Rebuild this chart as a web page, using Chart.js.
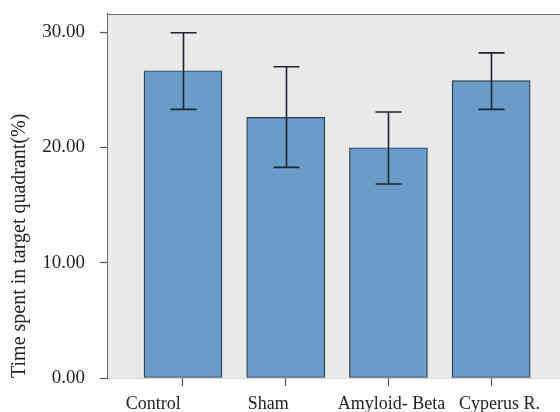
<!DOCTYPE html>
<html>
<head>
<meta charset="utf-8">
<script src="https://cdn.jsdelivr.net/npm/chart.js@4"></script>
<style>
  html, body { margin: 0; padding: 0; background: #fff; }
  #wrap { width: 560px; height: 412px; }
</style>
</head>
<body>
<div id="wrap"><canvas id="grafico"></canvas></div>
<script>
var grupos = ['Control', 'Sham', 'Amyloid- Beta', 'Cyperus R.'];
var medias = [26.65, 22.6, 19.97, 25.8];
var errorAlto = [29.95, 27.0, 23.07, 28.2];
var errorBajo = [23.3, 18.27, 16.83, 23.3];
var ticksY = [0, 10, 20, 30];

// en la figura original las etiquetas no estan centradas bajo cada marca
var desfaseEtiquetas = [-0.29, -0.17, 0.03, 0.08];

var puntos = medias.map(function (v, i) { return { x: i, y: v }; });

// fondo gris del area y linea superior
var fondoPlugin = {
  id: 'fondo',
  beforeDatasetsDraw: function (chart) {
    var a = chart.chartArea, ctx = chart.ctx;
    ctx.save();
    ctx.fillStyle = '#e9e9e9';
    ctx.fillRect(a.left, a.top, a.right - a.left, a.bottom - a.top);
    ctx.strokeStyle = '#6a6a6a';
    ctx.lineWidth = 1.2;
    ctx.beginPath();
    ctx.moveTo(a.left, a.top + 0.5);
    ctx.lineTo(a.right, a.top + 0.5);
    ctx.stroke();
    ctx.restore();
  }
};

// barras de error
var errorPlugin = {
  id: 'errores',
  afterDatasetsDraw: function (chart) {
    var ctx = chart.ctx, sx = chart.scales.x, sy = chart.scales.y;
    ctx.save();
    ctx.strokeStyle = '#1c2632';
    ctx.lineWidth = 1.6;
    for (var i = 0; i < grupos.length; i++) {
      var x = Math.round(sx.getPixelForValue(i)) + 0.5;
      var y1 = sy.getPixelForValue(errorAlto[i]);
      var y2 = sy.getPixelForValue(errorBajo[i]);
      ctx.beginPath();
      ctx.moveTo(x, y1); ctx.lineTo(x, y2);
      ctx.moveTo(x - 13, y1); ctx.lineTo(x + 13, y1);
      ctx.moveTo(x - 13, y2); ctx.lineTo(x + 13, y2);
      ctx.stroke();
    }
    ctx.restore();
  }
};

new Chart(document.getElementById('grafico').getContext('2d'), {
  type: 'bar',
  data: {
    datasets: [{
      data: puntos,
      backgroundColor: '#6a9cc9',
      borderColor: '#2b3a4a',
      borderWidth: 1.2,
      borderSkipped: false,
      barThickness: 78
    }]
  },
  options: {
    responsive: true,
    maintainAspectRatio: false,
    animation: false,
    layout: { padding: { top: 14, left: 0, right: 0, bottom: 0 } },
    plugins: { legend: { display: false }, tooltip: { enabled: false } },
    scales: {
      x: {
        type: 'linear',
        offset: false,
        min: -0.73,
        max: 3.67,
        weight: 1,
        afterBuildTicks: function (s) { s.ticks = grupos.map(function (g, i) { return { value: i }; }); },
        afterFit: function (s) { s.height = 8; s.paddingLeft = 0; s.paddingRight = 0; },
        grid: { offset: false, drawOnChartArea: false, drawTicks: true, tickLength: 8, tickColor: '#555', tickWidth: 1.2 },
        border: { display: true, color: '#6a6a6a', width: 1.2 },
        ticks: { display: false }
      },
      // eje solo para las etiquetas de los grupos
      xEtiquetas: {
        type: 'linear',
        position: 'bottom',
        offset: false,
        min: -0.73,
        max: 3.67,
        weight: 2,
        afterBuildTicks: function (s) { s.ticks = grupos.map(function (g, i) { return { value: i + desfaseEtiquetas[i] }; }); },
        afterFit: function (s) { s.height = 26; s.paddingLeft = 0; s.paddingRight = 0; },
        grid: { display: false, drawTicks: false },
        border: { display: false },
        ticks: {
          padding: 7,
          color: '#222',
          font: { family: 'Liberation Serif', size: 18 },
          callback: function (v, idx) { return grupos[idx]; }
        }
      },
      y: {
        min: 0,
        max: 31.57,
        afterBuildTicks: function (s) { s.ticks = ticksY.map(function (v) { return { value: v }; }); },
        afterFit: function (s) { s.width = 108; s.paddingTop = 0; s.paddingBottom = 0; },
        grid: { drawOnChartArea: false, drawTicks: true, tickLength: 8, tickColor: '#555', tickWidth: 1.2 },
        border: { display: true, color: '#6a6a6a', width: 1.2 },
        ticks: {
          padding: 15,
          color: '#222',
          font: { family: 'Liberation Serif', size: 19 },
          callback: function (v) { return v.toFixed(2); }
        },
        title: {
          display: true,
          text: 'Time spent in target quadrant(%)',
          align: 'start',
          color: '#222',
          font: { family: 'Liberation Serif', size: 20 },
          padding: { top: 8, bottom: 0 }
        }
      }
    }
  },
  plugins: [fondoPlugin, errorPlugin]
});
</script>
</body>
</html>
